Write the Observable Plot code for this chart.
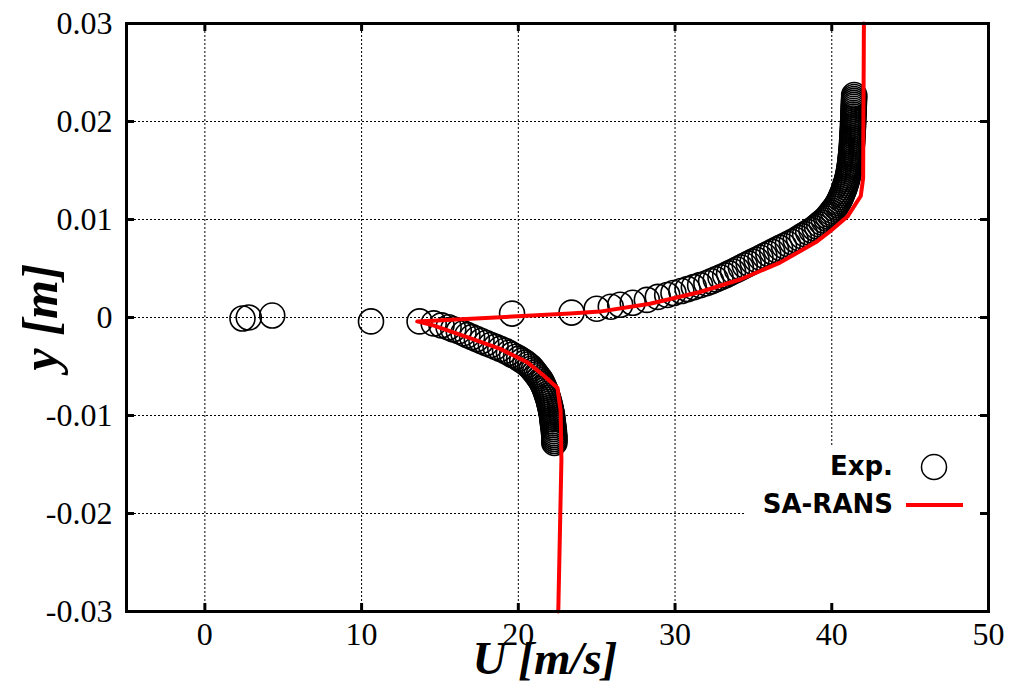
<!DOCTYPE html>
<html><head><meta charset="utf-8">
<script src="https://cdn.jsdelivr.net/npm/d3@7"></script>
<script src="https://cdn.jsdelivr.net/npm/@observablehq/plot@0.6"></script>
<style>body{margin:0;background:#fff} #chart{width:1017px;height:683px}</style>
</head><body><div id="chart"></div>
<script>
// ---- data ----
const xTickLabels = [0, 10, 20, 30, 40, 50];
const xTickMarks = [0, 10, 20, 30, 40];
const yTickLabels = [-0.03, -0.02, -0.01, 0, 0.01, 0.02, 0.03];
const yTickMarks = [-0.02, -0.01, 0, 0.01, 0.02];
const xLabel = "U [m/s]";
const yLabel = "y [m]";
const legendLabels = ["Exp.", "SA-RANS"];

// Experimental profile, lower branch (U [m/s], y [m])
const lowerY = [
  -0.0128, -0.0126, -0.0124, -0.0122, -0.0120, -0.0118, -0.0116, -0.0114, -0.0112, -0.0110,
  -0.0108, -0.0106, -0.0104, -0.0102, -0.0100, -0.0098, -0.0096, -0.0094, -0.0092, -0.0090,
  -0.0088, -0.0086, -0.0084, -0.0082, -0.0080, -0.0078, -0.0076, -0.0074, -0.0072, -0.0070,
  -0.0068, -0.0066, -0.0064, -0.0062, -0.0060, -0.0058, -0.0056, -0.0054, -0.0052, -0.0050,
  -0.0048, -0.0046, -0.0044, -0.0042, -0.0040, -0.0038, -0.0036, -0.0034, -0.0032, -0.0030,
  -0.0028, -0.0026, -0.0024, -0.0022, -0.0020, -0.0018, -0.0016, -0.0014, -0.0012, -0.0010,
  -0.0008, -0.0006, -0.0004
];
const lowerU = [
  22.30, 22.30, 22.30, 22.30, 22.29, 22.28, 22.27, 22.26, 22.24, 22.22,
  22.21, 22.19, 22.18, 22.16, 22.15, 22.13, 22.10, 22.08, 22.05, 22.02,
  21.99, 21.96, 21.93, 21.89, 21.85, 21.81, 21.77, 21.72, 21.67, 21.62,
  21.56, 21.50, 21.43, 21.34, 21.25, 21.16, 21.06, 20.96, 20.86, 20.75,
  20.60, 20.45, 20.25, 20.05, 19.85, 19.60, 19.40, 19.15, 18.85, 18.55,
  18.25, 17.95, 17.65, 17.35, 17.05, 16.75, 16.50, 16.20, 15.85, 15.55,
  15.10, 14.60, 13.70
];
// Experimental points near the shear-layer centre line
const midU = [10.6, 2.4, 2.8, 4.3, 19.6];
const midY = [-0.0004, -0.0001, 0.0000, 0.0002, 0.0004];
// Experimental profile, upper branch
const upperU = [
  23.4, 25.0, 25.9, 26.5, 27.3, 28.2, 28.9, 29.5, 29.9, 30.4,
  30.8, 31.2, 31.6, 32.0, 32.3, 32.6, 32.9, 33.2, 33.45, 33.7,
  33.95, 34.2, 34.45, 34.7, 34.95, 35.2, 35.45, 35.7, 35.95, 36.2,
  36.45, 36.7, 36.95, 37.2, 37.45, 37.7, 37.9, 38.1, 38.3, 38.5,
  38.7, 38.9, 39.05, 39.2, 39.35, 39.5, 39.65, 39.75, 39.85, 39.95,
  40.05, 40.15, 40.25, 40.33, 40.4, 40.47, 40.53, 40.59, 40.64, 40.69,
  40.74, 40.79, 40.83, 40.87, 40.91, 40.95, 40.98, 41.01, 41.04, 41.07,
  41.09, 41.11, 41.13, 41.15, 41.17, 41.19, 41.2, 41.21, 41.22, 41.24,
  41.25, 41.26, 41.27, 41.28, 41.29, 41.3, 41.3, 41.31, 41.32, 41.33,
  41.33, 41.34, 41.35, 41.35, 41.36, 41.36, 41.37, 41.37, 41.38, 41.38,
  41.39, 41.39, 41.4, 41.4, 41.41, 41.41, 41.42, 41.42, 41.43, 41.43
];
const upperY = [
  0.0005, 0.0009, 0.0011, 0.0013, 0.0015, 0.0018, 0.0021, 0.0023, 0.0025, 0.0027,
  0.0029, 0.0031, 0.0033, 0.0035, 0.0037, 0.0039, 0.0041, 0.0043, 0.0045, 0.0047,
  0.0049, 0.0051, 0.0053, 0.0055, 0.0057, 0.0059, 0.0061, 0.0063, 0.0065, 0.0067,
  0.0069, 0.0071, 0.0073, 0.0075, 0.0077, 0.0079, 0.0081, 0.0083, 0.0085, 0.0087,
  0.0089, 0.0091, 0.0093, 0.0095, 0.0097, 0.0099, 0.0101, 0.0103, 0.0105, 0.0107,
  0.0109, 0.0111, 0.0113, 0.0115, 0.0117, 0.0119, 0.0121, 0.0123, 0.0125, 0.0127,
  0.0129, 0.0131, 0.0133, 0.0135, 0.0137, 0.0139, 0.0141, 0.0143, 0.0145, 0.0147,
  0.0149, 0.0151, 0.0153, 0.0155, 0.0157, 0.0159, 0.0161, 0.0163, 0.0165, 0.0167,
  0.0169, 0.0171, 0.0173, 0.0175, 0.0177, 0.0179, 0.0181, 0.0183, 0.0185, 0.0187,
  0.0189, 0.0191, 0.0193, 0.0195, 0.0197, 0.0199, 0.0201, 0.0203, 0.0205, 0.0207,
  0.0209, 0.0211, 0.0213, 0.0215, 0.0217, 0.0219, 0.0221, 0.0223, 0.0225, 0.0227
];

// SA-RANS profile
const ransU = [22.55, 22.75, 22.7, 22.5, 21.6, 20.6, 18.85, 16.74, 14.57, 13.55, 23.3, 25.2, 28.4, 31.6, 34.2, 36.7, 39.0, 39.9, 41.0, 41.85, 42.0, 42.05];
const ransY = [-0.03, -0.0145, -0.0095, -0.0072, -0.0059, -0.0046, -0.0032, -0.0020, -0.0008, -0.0004, 0.0004, 0.0006, 0.0014, 0.0026, 0.0039, 0.0056, 0.0077, 0.0088, 0.0103, 0.0124, 0.0142, 0.03];

// ---- build ----
const toRows = (U, Y) => U.map((u, i) => ({u, y: Y[i]}));
const expData = [...toRows(lowerU, lowerY), ...toRows(midU, midY), ...toRows(upperU, upperY)];
const ransData = toRows(ransU, ransY);

const W = 1017, H = 683, mL = 126, mR = 29, mT = 23, mB = 72;
const innerW = W - mL - mR, innerH = H - mT - mB;
const tickLen = 8;
const serif = "'Liberation Serif', 'Times New Roman', serif";

function legend(index, scales, values, dims) {
  const right = dims.width - dims.marginRight;
  const bottom = dims.height - dims.marginBottom;
  const g = d3.create("svg:g");
  g.append("rect").attr("x", right - 243).attr("y", bottom - 164)
    .attr("width", 243).attr("height", 164).attr("fill", "white");
  const txt = g.append("g").attr("font-family", "'DejaVu Sans', sans-serif")
    .attr("font-weight", "bold").attr("font-size", 26).attr("text-anchor", "end").attr("fill", "black");
  txt.append("text").attr("x", right - 95).attr("y", bottom - 136).text(legendLabels[0]);
  txt.append("text").attr("x", right - 95).attr("y", bottom - 98).text(legendLabels[1]);
  g.append("circle").attr("cx", right - 54).attr("cy", bottom - 144).attr("r", 12.5)
    .attr("fill", "none").attr("stroke", "black").attr("stroke-width", 1.5);
  g.append("line").attr("x1", right - 82).attr("x2", right - 25)
    .attr("y1", bottom - 106).attr("y2", bottom - 106)
    .attr("stroke", "#ff0000").attr("stroke-width", 4);
  return g.node();
}

const chart = Plot.plot({
  width: W, height: H,
  marginLeft: mL, marginRight: mR, marginTop: mT, marginBottom: mB,
  style: {background: "white", color: "black", fontFamily: serif},
  x: {domain: [-5, 50]},
  y: {domain: [-0.03, 0.03]},
  marks: [
    Plot.gridX(xTickMarks, {stroke: "black", strokeOpacity: 1, strokeWidth: 1, strokeDasharray: "2,2"}),
    Plot.gridY(yTickMarks, {stroke: "black", strokeOpacity: 1, strokeWidth: 1, strokeDasharray: "2,2"}),
    Plot.dot(expData, {x: "u", y: "y", r: 12.5, stroke: "black", strokeWidth: 1.6, fill: "none"}),
    Plot.line(ransData, {x: "u", y: "y", stroke: "#ff0000", strokeWidth: 4, curve: "linear"}),
    legend,
    // inward ticks on all four sides
    Plot.ruleX(xTickMarks, {x: d => d, stroke: "black", strokeWidth: 3, insetTop: innerH - tickLen}),
    Plot.ruleX(xTickMarks, {x: d => d, stroke: "black", strokeWidth: 3, insetBottom: innerH - tickLen}),
    Plot.ruleY(yTickMarks, {y: d => d, stroke: "black", strokeWidth: 3, insetRight: innerW - tickLen}),
    Plot.ruleY(yTickMarks, {y: d => d, stroke: "black", strokeWidth: 3, insetLeft: innerW - tickLen}),
    Plot.frame({stroke: "black", strokeWidth: 3}),
    Plot.axisX({ticks: xTickLabels, tickSize: 0, tickPadding: 11, label: null, fontSize: 32, fontFamily: serif, tickFormat: d => String(d)}),
    Plot.axisY({ticks: yTickLabels, tickSize: 0, tickPadding: 14, label: null, fontSize: 32, fontFamily: serif, tickFormat: d => d === 0 ? "0" : d.toFixed(2)})
  ]
});

const svg = d3.select(chart);
svg.append("text").attr("x", 545).attr("y", 674).attr("text-anchor", "middle")
  .attr("font-family", serif).attr("font-weight", "bold").attr("font-style", "italic")
  .attr("font-size", 47).attr("fill", "black").text(xLabel);
svg.append("text").attr("transform", "translate(57,317) rotate(-90)").attr("text-anchor", "middle")
  .attr("font-family", serif).attr("font-weight", "bold").attr("font-style", "italic")
  .attr("font-size", 50).attr("fill", "black").text(yLabel);

document.getElementById("chart").append(chart);
</script>
</body></html>
